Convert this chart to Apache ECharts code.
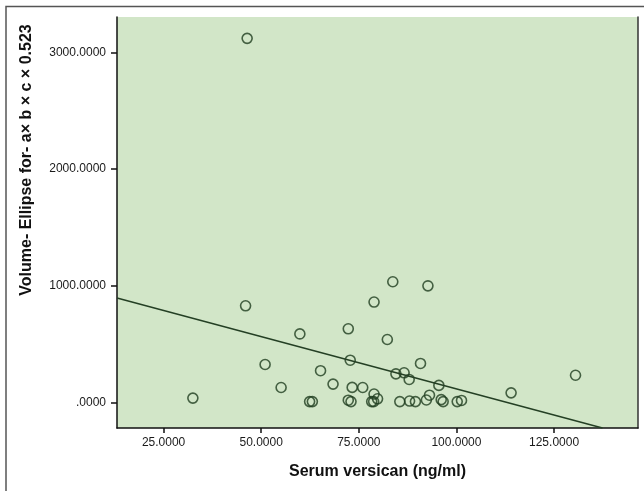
<!DOCTYPE html>
<html>
<head>
<meta charset="utf-8">
<script src="https://cdn.jsdelivr.net/npm/echarts@6/dist/echarts.min.js"></script>
<style>
  html, body { margin: 0; padding: 0; background: #fff; }
  #chart { width: 644px; height: 491px; }
</style>
</head>
<body>
<div id="chart"></div>
<script>
// values
var versican = [46.4, 46.0, 32.5, 51.0, 59.9, 55.1, 65.2, 68.4, 62.4, 63.1,
  72.3, 72.8, 73.3, 76.0, 72.3, 73.0, 78.9, 83.7, 82.3, 78.9,
  78.3, 78.8, 79.8, 84.5, 86.6, 87.9, 85.5, 88.0, 89.5, 92.7,
  90.8, 93.1, 92.3, 95.5, 96.1, 96.6, 100.2, 101.3, 114.0, 130.5];
var volume = [3120, 829, 38, 326, 588, 129, 273, 158, 8, 8,
  632, 363, 130, 129, 20, 8, 861, 1035, 540, 73,
  8, 8, 32, 246, 255, 198, 8, 13, 8, 1000,
  335, 63, 22, 147, 25, 8, 8, 18, 83, 234];
// fit line end points (x, y)
var fitX = [13.07, 137.4];
var fitY = [895, -218];
var xTicks = [25, 50, 75, 100, 125];
var yTicks = [0, 1000, 2000, 3000];

(function() {
  var ink = '#1a1a1a';
  var mark = '#1f3d1f';
  var fmt = function(v) { return v === 0 ? '.0000' : v.toFixed(4); };

  var pts = versican.map(function(x, i) { return [x, volume[i]]; });
  var fit = fitX.map(function(x, i) { return [x, fitY[i]]; });

  var chart = echarts.init(document.getElementById('chart'), null, { renderer: 'canvas' });
  chart.setOption({
    animation: false,
    textStyle: { fontFamily: 'Liberation Sans, Arial, sans-serif' },
    grid: {
      left: 117, top: 17, right: 6, bottom: 63,
      show: true, backgroundColor: '#d2e6c8', borderWidth: 0
    },
    xAxis: {
      type: 'value', min: 13.07, max: 146.5,
      name: 'Serum versican (ng/ml)', nameLocation: 'middle', nameGap: 36,
      nameTextStyle: { color: '#111', fontSize: 16, fontWeight: 'bold' },
      axisLine: { show: true, onZero: false, lineStyle: { color: '#111', width: 1.5 } },
      axisTick: { show: true, length: 5, customValues: xTicks, lineStyle: { color: '#111', width: 1.5 } },
      axisLabel: { customValues: xTicks, formatter: fmt, color: ink, fontSize: 12, margin: 9 },
      splitLine: { show: false }
    },
    yAxis: [{
      type: 'value', min: -218, max: 3303,
      axisLine: { show: true, onZero: false, lineStyle: { color: '#111', width: 1.5 } },
      axisTick: { show: true, length: 6, customValues: yTicks, lineStyle: { color: '#111', width: 1.5 } },
      axisLabel: { customValues: yTicks, formatter: fmt, color: ink, fontSize: 12, margin: 11 },
      splitLine: { show: false }
    }, {
      type: 'value', min: -218, max: 3303, position: 'right',
      axisLine: { show: true, onZero: false, lineStyle: { color: '#333', width: 1.5 } },
      axisTick: { show: false }, axisLabel: { show: false }, splitLine: { show: false }
    }],
    graphic: [
      { type: 'polyline', shape: { points: [[6, 491], [6, 6.5], [644, 6.5]] },
        style: { stroke: '#555', lineWidth: 1.5, fill: null } },
      { type: 'text', x: 27, y: 160, rotation: Math.PI / 2,
        style: { text: 'Volume- Ellipse for- a\u00d7 b \u00d7 c \u00d7 0.523', fill: '#111',
          font: 'bold 16px Liberation Sans, Arial, sans-serif', textAlign: 'center', textVerticalAlign: 'middle' } }
    ],
    series: [
      { type: 'scatter', data: pts, symbol: 'circle', symbolSize: 10,
        itemStyle: { color: 'transparent', borderColor: mark, borderWidth: 1.6 } },
      { type: 'line', data: fit, symbol: 'none', clip: true,
        lineStyle: { color: '#243f24', width: 1.5 } }
    ]
  });
  window.addEventListener('resize', function() { chart.resize(); });
})();
</script>
</body>
</html>
